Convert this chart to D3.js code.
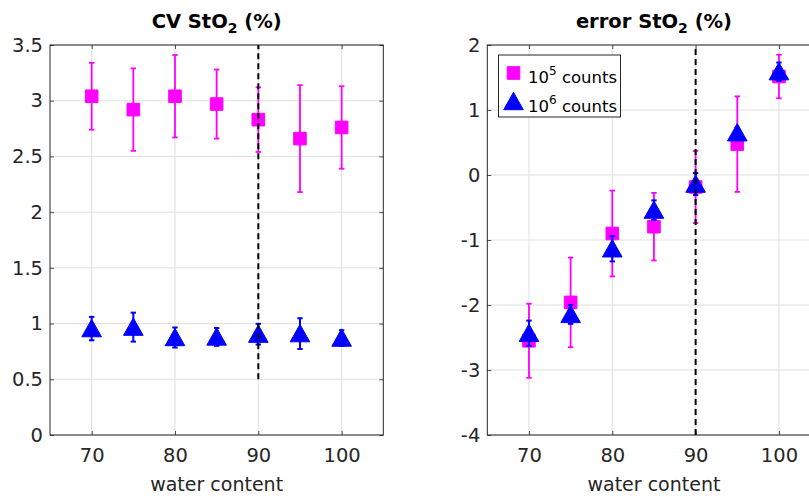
<!DOCTYPE html>
<html>
<head>
<meta charset="utf-8">
<script src="https://cdn.jsdelivr.net/npm/d3@7"></script>
<style>
  body { margin: 0; background: #fff; }
  svg { display: block; font-family: 'DejaVu Sans', sans-serif; }
</style>
</head>
<body>
<div id="chart"></div>
<script>
// water content on the x axis (same for both panels)
const waterContent = [70, 75, 80, 85, 90, 95, 100];
const xTicks = [70, 80, 90, 100];

// left panel: CV StO2 (%)
const cv1e5 = [3.04, 2.92, 3.04, 2.97, 2.83, 2.66, 2.76];
const cv1e5Err = [0.30, 0.37, 0.37, 0.31, 0.29, 0.48, 0.37];
const cv1e6 = [0.955, 0.968, 0.875, 0.88, 0.905, 0.91, 0.87];
const cv1e6Err = [0.105, 0.13, 0.09, 0.08, 0.093, 0.138, 0.07];
const cvTicks = [0, 0.5, 1, 1.5, 2, 2.5, 3, 3.5];

// right panel: error StO2 (%)
const err1e5 = [-2.55, -1.96, -0.90, -0.795, -0.185, 0.475, 1.515];
const err1e5Err = [0.57, 0.69, 0.66, 0.52, 0.555, 0.735, 0.335];
const err1e6 = [-2.435, -2.145, -1.135, -0.54, -0.14, 0.65, 1.59];
const err1e6Err = [0.195, 0.145, 0.195, 0.15, 0.17, 0.08, 0.14];
const errTicks = [-4, -3, -2, -1, 0, 1, 2];

const seriesNames = ['5', '6']; // 10^5 counts, 10^6 counts

const W = 809, H = 497;
const axisColor = '#262626';
const gridColor = '#dfdfdf';
const magenta = '#ff00ff';
const blue = '#0000ff';

const svg = d3.select('#chart')
  .append('svg')
  .attr('width', W)
  .attr('height', H)
  .style('overflow', 'hidden');

svg.append('rect').attr('width', W).attr('height', H).attr('fill', '#fff');

// MATLAB style labels: no trailing zeros, plain hyphen for minus
const fmt = d => String(d);

/**
 * Draws one MATLAB-like panel
 */
function drawPanel (o) {
  const x = d3.scaleLinear().domain([65, 105]).range([o.left, o.right]);
  const y = d3.scaleLinear().domain(o.yDomain).range([435, 45]);
  const g = svg.append('g');

  // grid
  g.selectAll('.gx').data(xTicks).join('line')
    .attr('x1', d => x(d)).attr('x2', d => x(d))
    .attr('y1', y.range()[0]).attr('y2', y.range()[1])
    .attr('stroke', gridColor).attr('stroke-width', 1);
  g.selectAll('.gy').data(o.yTicks).join('line')
    .attr('x1', o.left).attr('x2', o.right)
    .attr('y1', d => y(d)).attr('y2', d => y(d))
    .attr('stroke', gridColor).attr('stroke-width', 1);

  // axes (ticks inside, mirrored)
  const tl = 4;
  g.append('g')
    .attr('transform', `translate(0,${y.range()[0]})`)
    .call(d3.axisBottom(x).tickValues(xTicks).tickSizeInner(-tl).tickSizeOuter(0).tickPadding(13).tickFormat(fmt))
    .call(a => a.select('.domain').remove());
  g.append('g')
    .attr('transform', `translate(0,${y.range()[1]})`)
    .call(d3.axisTop(x).tickValues(xTicks).tickSizeInner(-tl).tickSizeOuter(0).tickFormat(''))
    .call(a => a.select('.domain').remove());
  g.append('g')
    .attr('transform', `translate(${o.left},0)`)
    .call(d3.axisLeft(y).tickValues(o.yTicks).tickSizeInner(-tl).tickSizeOuter(0).tickPadding(7).tickFormat(fmt))
    .call(a => a.select('.domain').remove());
  g.append('g')
    .attr('transform', `translate(${o.right},0)`)
    .call(d3.axisRight(y).tickValues(o.yTicks).tickSizeInner(-tl).tickSizeOuter(0).tickFormat(''))
    .call(a => a.select('.domain').remove());

  g.selectAll('.tick line').attr('stroke', axisColor).attr('stroke-width', 0.8);
  g.selectAll('.tick text')
    .attr('fill', axisColor)
    .style('font-size', '19.5px')
    .style('font-family', "'DejaVu Sans', sans-serif");

  // box
  g.append('rect')
    .attr('x', o.left).attr('y', 45)
    .attr('width', o.right - o.left).attr('height', 390)
    .attr('fill', 'none').attr('stroke', axisColor).attr('stroke-width', 1);

  // series
  drawErrorSeries(g, x, y, o.s1, o.s1Err, magenta, 'square');
  drawErrorSeries(g, x, y, o.s2, o.s2Err, blue, 'triangle');

  // dashed line at 90
  g.append('line')
    .attr('x1', x(90)).attr('x2', x(90))
    .attr('y1', y(o.dash[0])).attr('y2', y(o.dash[1]))
    .attr('stroke', '#000').attr('stroke-width', 2)
    .attr('stroke-dasharray', '6,4');

  // title
  const title = g.append('text')
    .attr('x', (o.left + o.right) / 2)
    .attr('y', 28)
    .attr('text-anchor', 'middle')
    .attr('fill', '#000')
    .style('font-size', '19.5px')
    .style('font-weight', 'bold')
    .text(o.title + ' StO');
  title.append('tspan').attr('dy', 5).style('font-size', '14px').text('2');
  title.append('tspan').attr('dy', -5).text(' (%)');

  // x label
  g.append('text')
    .attr('x', (o.left + o.right) / 2)
    .attr('y', 491)
    .attr('text-anchor', 'middle')
    .attr('fill', axisColor)
    .style('font-size', '19px')
    .text('water content');

  return { x, y, g };
}

function drawErrorSeries (g, x, y, vals, errs, color, shape) {
  const s = g.append('g');
  const cap = 2.7;
  const lw = shape === 'square' ? 1.8 : 2;
  waterContent.forEach((w, i) => {
    const cx = x(w);
    const top = y(vals[i] + errs[i]);
    const bot = y(vals[i] - errs[i]);
    s.append('line').attr('x1', cx).attr('x2', cx).attr('y1', top).attr('y2', bot)
      .attr('stroke', color).attr('stroke-width', lw);
    [top, bot].forEach(yy => {
      s.append('line').attr('x1', cx - cap).attr('x2', cx + cap).attr('y1', yy).attr('y2', yy)
        .attr('stroke', color).attr('stroke-width', lw);
    });
  });
  s.selectAll('path.mk').data(vals).join('path')
    .attr('d', markerPath(shape))
    .attr('transform', (d, i) => `translate(${x(waterContent[i])},${y(d)})`)
    .attr('fill', color).attr('stroke', color).attr('stroke-width', 1);
}

function markerPath (shape) {
  if (shape === 'square') return 'M-6.3,-6.3H6.3V6.3H-6.3Z';
  return 'M0,-9.2L9.8,8.2H-9.8Z';
}

drawPanel({
  left: 50, right: 383.3,
  yDomain: [0, 3.5], yTicks: cvTicks,
  s1: cv1e5, s1Err: cv1e5Err, s2: cv1e6, s2Err: cv1e6Err,
  dash: [0.5, 3.5], title: 'CV'
});

drawPanel({
  left: 487.3, right: 820.6,
  yDomain: [-4, 2], yTicks: errTicks,
  s1: err1e5, s1Err: err1e5Err, s2: err1e6, s2Err: err1e6Err,
  dash: [-4, 2], title: 'error'
});

// legend
const lg = svg.append('g');
lg.append('rect')
  .attr('x', 498.5).attr('y', 55)
  .attr('width', 122).attr('height', 62)
  .attr('fill', '#fff').attr('stroke', axisColor).attr('stroke-width', 1);
const legendColors = [magenta, blue];
const legendShapes = ['square', 'triangle'];
seriesNames.forEach((n, i) => {
  const yy = 73 + i * 28.5;
  lg.append('path')
    .attr('d', markerPath(legendShapes[i]))
    .attr('transform', `translate(513.5,${yy})`)
    .attr('fill', legendColors[i]).attr('stroke', legendColors[i]);
  const t = lg.append('text')
    .attr('x', 528).attr('y', yy + 10)
    .attr('fill', '#000')
    .style('font-size', '16.5px')
    .text('10');
  t.append('tspan').attr('dy', -8).style('font-size', '12px').text(n);
  t.append('tspan').attr('dy', 8).text(' counts');
});
</script>
</body>
</html>
